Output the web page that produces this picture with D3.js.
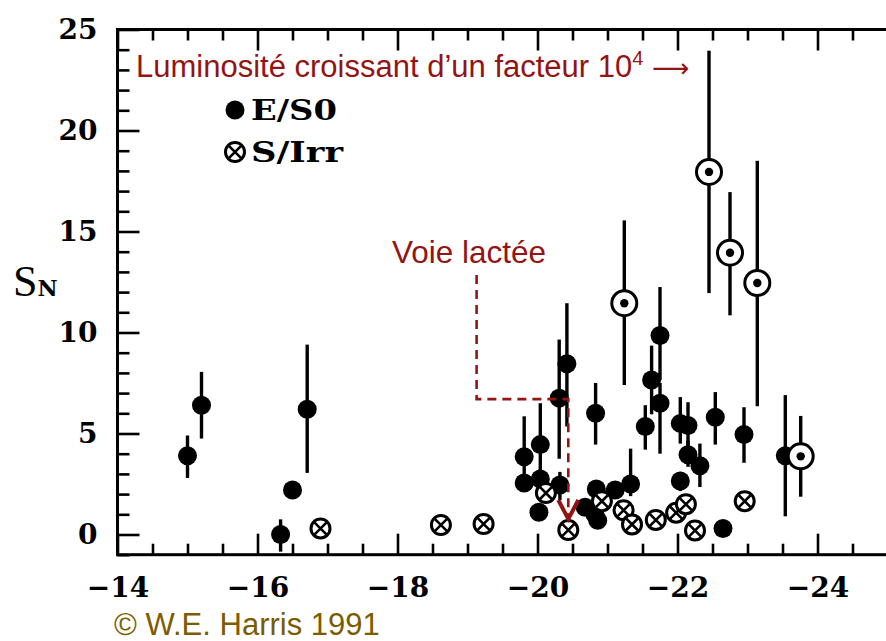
<!DOCTYPE html>
<html>
<head>
<meta charset="utf-8">
<script src="https://cdn.jsdelivr.net/npm/d3@7"></script>
<style>
  html, body { margin: 0; padding: 0; background: #fff; }
  svg { display: block; }
</style>
</head>
<body>
<svg id="chart" width="886" height="641"></svg>
<script>
// Specific frequency S_N of globular clusters versus galaxy absolute magnitude M_V.
// Each row: [M_V, S_N, error up, error down]; zero errors mean no error bar.
const ellipticals = [ // E/S0
  [-15.00, 3.90, 1.00, 1.10],
  [-15.20, 6.40, 1.65, 1.65],
  [-16.33, 0.00, 0.75, 0.85],
  [-16.50, 2.20, 0, 0],
  [-16.71, 6.20, 3.20, 3.15],
  [-19.81, 3.85, 2.00, 1.30],
  [-19.81, 2.55, 0, 0],
  [-20.04, 4.45, 2.05, 1.60],
  [-20.04, 2.75, 0.50, 0.60],
  [-20.02, 1.10, 0, 0],
  [-20.42, 8.45, 3.00, 3.10],
  [-20.31, 6.75, 2.90, 3.00],
  [-20.32, 2.45, 0.65, 0.75],
  [-20.83, 6.00, 1.50, 1.55],
  [-20.84, 2.25, 0, 0],
  [-20.68, 1.35, 0, 0],
  [-20.82, 1.00, 0, 0],
  [-20.86, 0.70, 0, 0],
  [-21.11, 2.20, 0, 0],
  [-21.33, 2.50, 1.75, 0.60],
  [-21.75, 9.85, 2.40, 2.20],
  [-21.63, 7.65, 1.70, 1.70],
  [-21.75, 6.50, 1.00, 2.50],
  [-21.54, 5.35, 1.05, 1.15],
  [-22.04, 5.50, 1.30, 1.00],
  [-22.15, 5.40, 1.15, 1.70],
  [-22.15, 3.95, 0.70, 0.60],
  [-22.32, 3.40, 1.10, 1.05],
  [-22.04, 2.65, 0.45, 0.50],
  [-22.54, 5.80, 1.25, 1.35],
  [-22.95, 4.95, 1.35, 1.40],
  [-23.54, 3.90, 3.00, 3.00],
  [-22.65, 0.30, 0, 0]
];
const spirals = [ // S/Irr
  [-16.90, 0.30],
  [-18.62, 0.47],
  [-19.23, 0.52],
  [-20.12, 2.05],
  [-20.44, 0.22],
  [-20.92, 1.65],
  [-21.23, 1.20],
  [-21.35, 0.50],
  [-21.69, 0.72],
  [-21.98, 1.08],
  [-22.12, 1.50],
  [-22.25, 0.20],
  [-22.96, 1.65]
];
const cDGalaxies = [ // circled dots
  [-21.24, 11.45, 4.10, 4.05],
  [-22.45, 17.95, 6.00, 6.00],
  [-22.75, 13.95, 3.00, 3.10],
  [-23.14, 12.45, 6.05, 6.10],
  [-23.76, 3.87, 2.00, 2.00]
];
const milkyWay = [-20.44, 0.22];
const milkyWayLabelAt = [-19.13, 12.85]; // where the dashed leader starts
const milkyWayElbow = 6.7;                // S_N level of the horizontal leg

const xMajor = [-14, -16, -18, -20, -22, -24];
const xTickLabels = ["\u221214", "\u221216", "\u221218", "\u221220", "\u221222", "\u221224"];
const yMajor = [0, 5, 10, 15, 20, 25];
const yTickLabels = ["0", "5", "10", "15", "20", "25"];
const legendLabels = ["E/S0", "S/Irr"];

const svg = d3.select("#chart");
const pLeft = 117.5, pRight = 887.5, pTop = 29.5, pBottom = 554.7;
const x = d3.scaleLinear().domain([-14, -25]).range([pLeft, pRight]);
const y = d3.scaleLinear().domain([-1, 25]).range([pBottom, pTop]);

const xMinor = d3.range(-14, -25.01, -0.5).filter(v => !xMajor.includes(v));
const yMinor = d3.range(-1, 25.01, 1).filter(v => !yMajor.includes(v));

const tickFont = "'DejaVu Serif', serif";
function styleAxis(g) {
  g.select(".domain").remove();
  g.selectAll("line").attr("stroke", "#000").attr("stroke-width", 2.6);
  g.selectAll("text").attr("font-family", tickFont).attr("font-weight", "bold")
    .attr("font-size", 28).attr("fill", "#000");
}

// bottom axis (ticks point inward)
svg.append("g").attr("transform", `translate(0,${pBottom})`)
  .call(d3.axisBottom(x).tickValues(xMinor).tickSize(-11).tickFormat(""))
  .call(styleAxis);
svg.append("g").attr("transform", `translate(0,${pBottom})`)
  .call(d3.axisBottom(x).tickValues(xMajor).tickSize(-21).tickPadding(22)
    .tickFormat((d, i) => xTickLabels[i]))
  .call(styleAxis);
// top axis
svg.append("g").attr("transform", `translate(0,${pTop})`)
  .call(d3.axisTop(x).tickValues(xMinor).tickSize(-11).tickFormat(""))
  .call(styleAxis);
svg.append("g").attr("transform", `translate(0,${pTop})`)
  .call(d3.axisTop(x).tickValues(xMajor).tickSize(-21).tickFormat(""))
  .call(styleAxis);
// left axis
svg.append("g").attr("transform", `translate(${pLeft},0)`)
  .call(d3.axisLeft(y).tickValues(yMinor).tickSize(-12).tickFormat(""))
  .call(styleAxis);
svg.append("g").attr("transform", `translate(${pLeft},0)`)
  .call(d3.axisLeft(y).tickValues(yMajor).tickSize(-22).tickPadding(20)
    .tickFormat((d, i) => yTickLabels[i]))
  .call(styleAxis);

// frame
svg.append("rect").attr("x", pLeft).attr("y", pTop)
  .attr("width", pRight - pLeft).attr("height", pBottom - pTop)
  .attr("fill", "none").attr("stroke", "#000").attr("stroke-width", 3);

// y-axis title S_N
const yTitle = svg.append("text").attr("x", 13).attr("y", 296)
  .attr("font-family", "'Liberation Serif', 'Times New Roman', serif")
  .attr("font-size", 44).attr("fill", "#000");
yTitle.append("tspan").text("S");
yTitle.append("tspan").attr("font-family", tickFont).attr("font-weight", "bold")
  .attr("font-size", 22).text("N");

const plot = svg.append("g");

// error bars
const withErr = ellipticals.concat(cDGalaxies).filter(d => d[2] > 0 || d[3] > 0);
plot.selectAll("line.err").data(withErr).join("line").attr("class", "err")
  .attr("x1", d => x(d[0])).attr("x2", d => x(d[0]))
  .attr("y1", d => y(d[1] + d[2])).attr("y2", d => y(d[1] - d[3]))
  .attr("stroke", "#000").attr("stroke-width", 3.4);

// E/S0 filled dots
plot.selectAll("circle.es0").data(ellipticals).join("circle").attr("class", "es0")
  .attr("cx", d => x(d[0])).attr("cy", d => y(d[1])).attr("r", 9.5).attr("fill", "#000");

// crossed circle symbol
function crossed(g, r) {
  g.append("circle").attr("r", r).attr("fill", "#fff").attr("stroke", "#000").attr("stroke-width", 3);
  const a = r * 0.62;
  g.append("path").attr("d", `M${-a},${-a}L${a},${a}M${-a},${a}L${a},${-a}`)
    .attr("stroke", "#000").attr("stroke-width", 2.6);
}
plot.selectAll("g.sirr").data(spirals).join("g").attr("class", "sirr")
  .attr("transform", d => `translate(${x(d[0])},${y(d[1])})`)
  .each(function () { crossed(d3.select(this), 9.5); });

// circled dots
const cd = plot.selectAll("g.cd").data(cDGalaxies).join("g").attr("class", "cd")
  .attr("transform", d => `translate(${x(d[0])},${y(d[1])})`);
cd.append("circle").attr("r", 12.5).attr("fill", "#fff").attr("stroke", "#000").attr("stroke-width", 3);
cd.append("circle").attr("r", 4.2).attr("fill", "#000");

// legend
const lg = svg.append("g").attr("font-family", tickFont).attr("font-weight", "bold")
  .attr("font-size", 27).attr("fill", "#000");
lg.append("circle").attr("cx", 235).attr("cy", 110).attr("r", 9.5).attr("fill", "#000");
lg.append("text").attr("x", 251).attr("y", 110).attr("dy", "0.36em")
  .attr("textLength", 86).attr("lengthAdjust", "spacingAndGlyphs").text(legendLabels[0]);
crossed(lg.append("g").attr("transform", "translate(235,152)"), 9.5);
lg.append("text").attr("x", 251).attr("y", 152).attr("dy", "0.36em")
  .attr("textLength", 92).attr("lengthAdjust", "spacingAndGlyphs").text(legendLabels[1]);

// annotations
const red = "#941414";
const annFont = "'Liberation Sans', Arial, sans-serif";
const lum = svg.append("text").attr("x", 136).attr("y", 77)
  .attr("font-family", annFont).attr("font-size", 31).attr("fill", red);
lum.append("tspan").text("Luminosit\u00e9 croissant d\u2019un facteur 10");
lum.append("tspan").attr("dy", -12).attr("font-size", 20).text("4");
lum.append("tspan").attr("dy", 12).text(" ");
lum.append("tspan").attr("font-family", "'DejaVu Sans', sans-serif").attr("font-size", 26)
  .text("\u27f6");

svg.append("text").attr("x", 392).attr("y", 263)
  .attr("font-family", annFont).attr("font-size", 31.5).attr("fill", red).text("Voie lact\u00e9e");

const tipY = y(milkyWay[1]) - 11;
svg.append("path")
  .attr("d", `M${x(milkyWayLabelAt[0])},${y(milkyWayLabelAt[1])}V${y(milkyWayElbow)}H${x(milkyWay[0])}V${tipY}`)
  .attr("fill", "none").attr("stroke", red).attr("stroke-width", 2.6).attr("stroke-dasharray", "9,6");
svg.append("path")
  .attr("d", `M${x(milkyWay[0]) - 10},${tipY - 19}L${x(milkyWay[0])},${tipY}L${x(milkyWay[0]) + 10},${tipY - 19}`)
  .attr("fill", "none").attr("stroke", red).attr("stroke-width", 4);

svg.append("text").attr("x", 114).attr("y", 635)
  .attr("font-family", annFont).attr("font-size", 31).attr("fill", "#7b5c00")
  .text("\u00a9 W.E. Harris 1991");
</script>
</body>
</html>
